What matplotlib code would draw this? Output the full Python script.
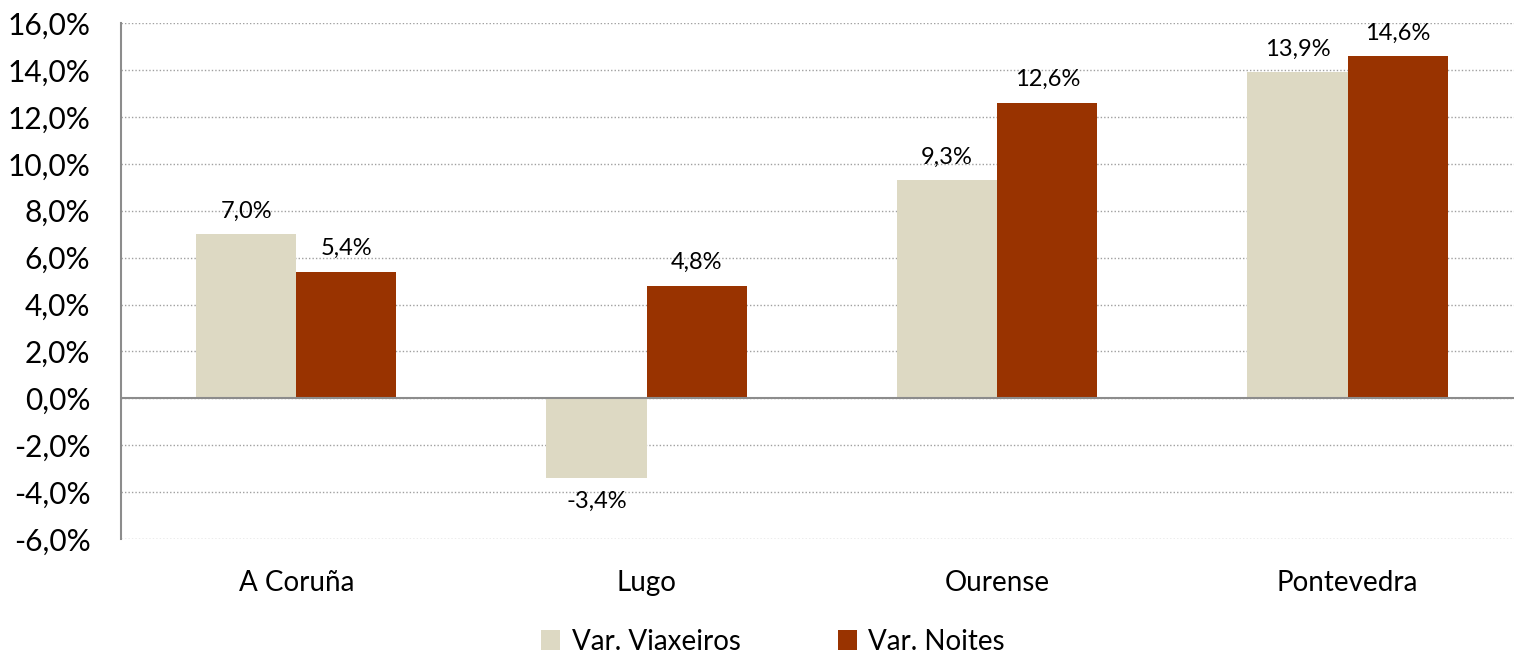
import matplotlib.pyplot as plt
import numpy as np
from matplotlib.ticker import FuncFormatter

categories = ['A Coruña', 'Lugo', 'Ourense', 'Pontevedra']
viaxeiros = [7.0, -3.4, 9.3, 13.9]
noites = [5.4, 4.8, 12.6, 14.6]
series_names = ['Var. Viaxeiros', 'Var. Noites']
colors = ['#DDD9C3', '#993300']

plt.rcParams['font.family'] = ['Lato', 'DejaVu Sans']

fig = plt.figure(figsize=(15.14, 6.59), dpi=100)
ax = fig.add_axes([0.0799, 0.182, 0.926, 0.783])

x = np.arange(len(categories))
w = 0.286
b1 = ax.bar(x - w / 2, viaxeiros, w, color=colors[0], label=series_names[0], zorder=2)
b2 = ax.bar(x + w / 2, noites, w, color=colors[1], label=series_names[1], zorder=2)

def fmt(v):
    return ('%.1f%%' % v).replace('.', ',')

for bars, vals in [(b1, viaxeiros), (b2, noites)]:
    for r, v in zip(bars, vals):
        cx = r.get_x() + r.get_width() / 2
        if v >= 0:
            ax.annotate(fmt(v), (cx, v), xytext=(0, 9), textcoords='offset points',
                        ha='center', va='bottom', fontsize=17)
        else:
            ax.annotate(fmt(v), (cx, v), xytext=(0, -9), textcoords='offset points',
                        ha='center', va='top', fontsize=17)

ax.set_xlim(-0.5, 3.5)
ax.set_ylim(-6, 16)
ax.set_yticks(np.arange(-6, 17, 2))
ax.yaxis.set_major_formatter(FuncFormatter(lambda v, p: fmt(v)))
ax.set_xticks(x)
ax.set_xticklabels(categories)
ax.tick_params(axis='both', length=0, labelsize=20)
ax.tick_params(axis='y', labelsize=21.5, pad=22)
ax.tick_params(axis='x', pad=22)

ax.yaxis.grid(True, linestyle=(0, (1, 1.5)), color='#A0A0A0', linewidth=1, zorder=0)
ax.axhline(0, color='#8C8C8C', linewidth=1.5, zorder=3)
for s in ['top', 'right', 'bottom']:
    ax.spines[s].set_visible(False)
ax.spines['left'].set_color('#8C8C8C')
ax.spines['left'].set_linewidth(1.5)

ax.legend(loc='upper center', bbox_to_anchor=(0.465, -0.125), ncol=2, frameon=False,
          fontsize=20, handlelength=0.7, handleheight=0.7, columnspacing=3.5, handletextpad=0.4)

fig.savefig('out.png', dpi=100)
